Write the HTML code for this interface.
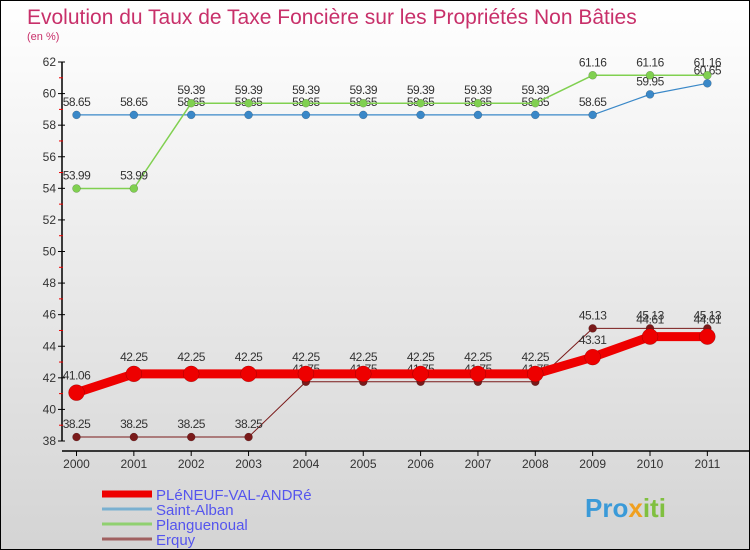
<!DOCTYPE html>
<html><head><meta charset="utf-8"><style>
body{margin:0}
#c{width:748px;height:548px;border:1px solid #000;background:linear-gradient(#fff,#d4d4d4);position:relative;font-family:"Liberation Sans",sans-serif;overflow:hidden}
</style></head><body>
<div id="c">
<svg id="s" width="748" height="548" style="position:absolute;left:0;top:0">
<text x="26" y="23" font-size="21" fill="#c8306a">Evolution du Taux de Taxe Foncière sur les Propriétés Non Bâties</text>
<text x="26" y="39" font-size="11" fill="#c8306a">(en %)</text>
<g id="axes"></g><g id="series"></g><g id="legend"></g>
<text x="584" y="516" font-size="26" font-weight="bold" fill="#3a9ad8">Pro<tspan fill="#f0a020">x</tspan><tspan fill="#80c040">iti</tspan></text>
</svg>
</div>
<script>
const years=[2000,2001,2002,2003,2004,2005,2006,2007,2008,2009,2010,2011];
const pleneuf=[41.06,42.25,42.25,42.25,42.25,42.25,42.25,42.25,42.25,43.31,44.61,44.61];
const saintAlban=[58.65,58.65,58.65,58.65,58.65,58.65,58.65,58.65,58.65,58.65,59.95,60.65];
const planguenoual=[53.99,53.99,59.39,59.39,59.39,59.39,59.39,59.39,59.39,61.16,61.16,61.16];
const erquy=[38.25,38.25,38.25,38.25,41.75,41.75,41.75,41.75,41.75,45.13,45.13,45.13];
const yTicks=[38,40,42,44,46,48,50,52,54,56,58,60,62];
const names=["PLéNEUF-VAL-ANDRé","Saint-Alban","Planguenoual","Erquy"];
const NS="http://www.w3.org/2000/svg";
const xs=i=>75.5+i*57.35;
const ys=v=>440-(v-38)*(379/24);
function mk(t,a,p){const e=document.createElementNS(NS,t);for(const k in a)e.setAttribute(k,a[k]);p.appendChild(e);return e;}
const ax=document.getElementById('axes');
let l=mk('line',{x1:61,y1:ys(62),x2:61,y2:ys(38),stroke:'#000','stroke-width':1.5},ax);


l=mk('line',{x1:61,y1:450,x2:748,y2:450,stroke:'#000','stroke-width':1.5},ax);


yTicks.forEach((v,k)=>{const y=ys(v);mk('line',{x1:57,y1:y,x2:64,y2:y,stroke:'#000'},ax);
if(k<yTicks.length-1)mk('line',{x1:58,y1:ys(v+1),x2:62,y2:ys(v+1),stroke:'#e00'},ax);
const t=mk('text',{x:55,y:y+4,'font-size':12,fill:'#333','text-anchor':'end'},ax);t.textContent=v;

});
years.forEach((yr,i)=>{const x=xs(i);mk('line',{x1:x,y1:450,x2:x,y2:455,stroke:'#000'},ax);
const t=mk('text',{x:x,y:467,'font-size':12,fill:'#333','text-anchor':'middle'},ax);t.textContent=yr;

});
const sg=document.getElementById('series');
function series(data,color,w,r,name,labelDy){
const g=mk('g',{},sg);


mk('polyline',{points:data.map((v,i)=>xs(i)+','+ys(v)).join(' '),fill:'none',stroke:color,'stroke-width':w,'stroke-linejoin':'round'},g);
data.forEach((v,i)=>{const c=mk('circle',{cx:xs(i),cy:ys(v),r:r,fill:color,stroke:'rgba(0,0,0,0.3)','stroke-width':0.5},g);


const t=mk('text',{x:xs(i),y:ys(v)-labelDy,'font-size':12,fill:'#333','text-anchor':'middle','letter-spacing':'-0.5'},g);t.textContent=v.toFixed(2).replace(/0$/,'');

});}
series(saintAlban,'#3a88c8',1.2,4,'saint-alban',9);
series(planguenoual,'#80d050',1.5,4,'planguenoual',9);
series(erquy,'#7a1a1a',1,4,'erquy',9);
series(pleneuf,'#ee0000',9,8,'pleneuf',13);
const lg=document.getElementById('legend');
const cols=['#ee0000','#7ab0d0','#90d070','#a06060'];const ws=[7,3,3,3];
names.forEach((n,i)=>{const y=493+i*15;
const ln=mk('line',{x1:101,y1:y,x2:151,y2:y,stroke:cols[i],'stroke-width':ws[i]},lg);


const t=mk('text',{x:155,y:y+6,'font-size':15,fill:'#5555ee'},lg);t.textContent=n;

});
</script>
</body></html>
